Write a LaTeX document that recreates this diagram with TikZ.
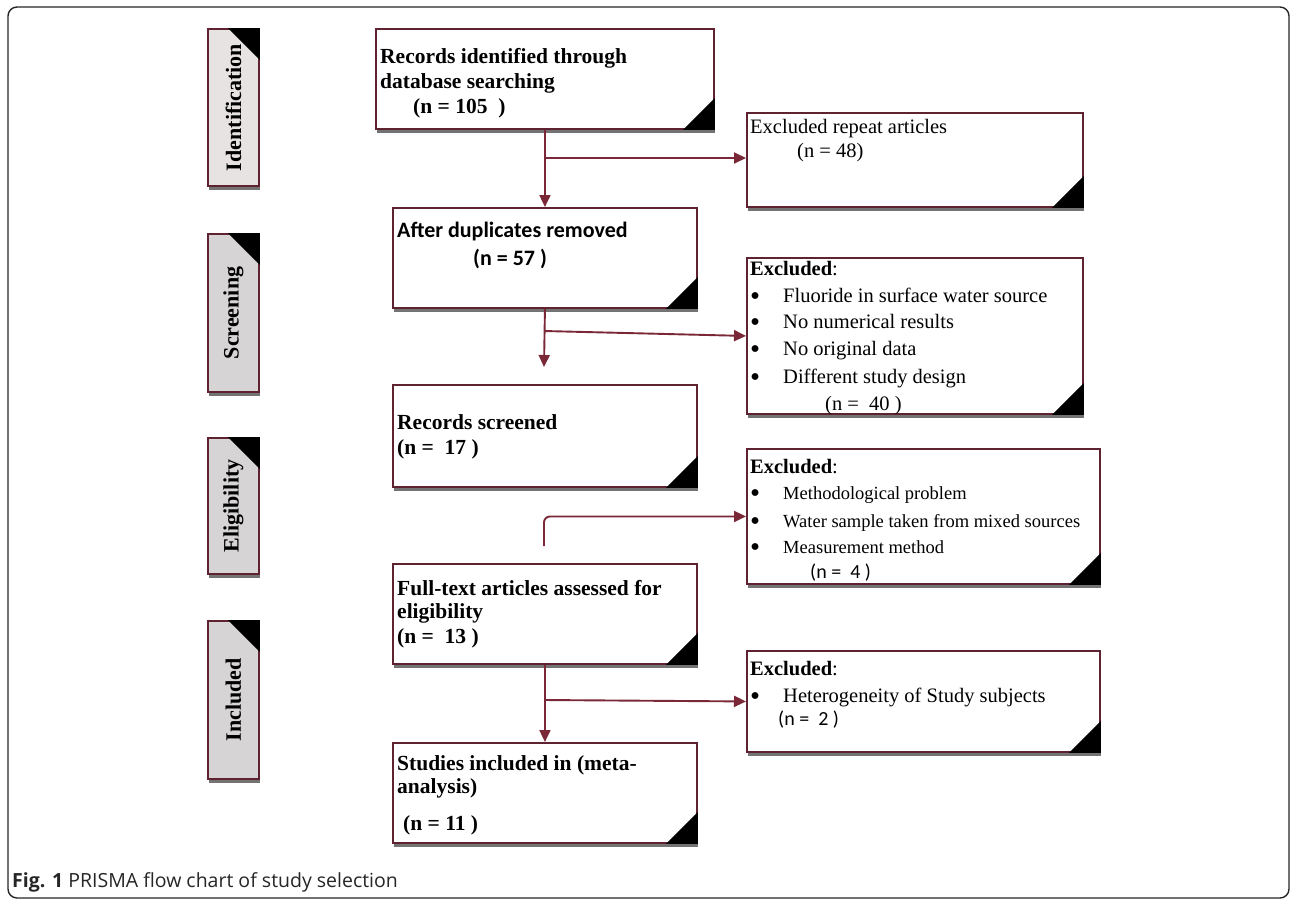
\documentclass[tikz,border=0pt]{standalone}
\usepackage{fontspec}
\setmainfont{Liberation Serif}
\newfontfamily\calib{Carlito}
\newfontfamily\capsans{Open Sans}
\usetikzlibrary{arrows.meta,shadows}
\definecolor{brd}{HTML}{5F2230}
\definecolor{arr}{HTML}{7A2838}
\definecolor{sidegray}{HTML}{D6D4D4}
\definecolor{sidelight}{HTML}{E8E3E3}
\newcommand\bigbul{\raisebox{-3pt}{\scalebox{1.4}{\textbullet}}}
\begin{document}
\begin{tikzpicture}[x=1pt,y=-1pt,
  frame/.style={draw=black!85, line width=1.4pt, rounded corners=9pt},
  box/.style={draw=brd, line width=1.9pt, fill=white, inner sep=0pt, anchor=north west,
    drop shadow={shadow xshift=1.5pt, shadow yshift=-4.5pt, fill=black, opacity=0.55}},
  sidebox/.style={box, fill=sidegray, minimum width=51pt},
  corner/.style={fill=black},
  conn/.style={draw=arr, line width=1.9pt},
  arrowed/.style={conn, -{Triangle[length=12pt,width=11pt]}},
  mtxt/.style={anchor=base west, inner sep=0pt, font=\fontsize{21.5}{25}\selectfont\bfseries},
  ctxt/.style={anchor=base west, inner sep=0pt, font=\fontsize{22}{26}\selectfont\calib\bfseries},
  rtxt/.style={anchor=base west, inner sep=0pt, font=\fontsize{20.5}{24}\selectfont},
  stxt/.style={anchor=base west, inner sep=0pt, font=\fontsize{18.5}{22}\selectfont},
  ntxt/.style={anchor=base west, inner sep=0pt, font=\fontsize{20}{24}\selectfont\calib},
  bul/.style={anchor=base west, inner sep=0pt, font=\fontsize{20.5}{24}\selectfont},
  sidetxt/.style={rotate=90, inner sep=0pt, font=\fontsize{22}{26}\selectfont\bfseries},
  captxt/.style={anchor=base west, inner sep=0pt, text=black!85, font=\fontsize{19.5}{22}\selectfont\capsans},
]
\useasboundingbox (0,0) rectangle (1292,900);
\fill[white] (0,0) rectangle (1292,900);
% outer frame
\coordinate (fnw) at (8,7);
\coordinate (fse) at (1289,898);
\draw[frame] (fnw) rectangle (fse);

% side labels
\node[sidebox, fill=sidelight, minimum height=157pt] (s1) at (207,28) {};
\node[sidebox, minimum height=158pt] (s2) at (207,233) {};
\node[sidebox, minimum height=136pt] (s3) at (207,437) {};
\node[sidebox, minimum height=158pt] (s4) at (207,620) {};
\foreach \s in {s1,s2,s3,s4}{
  \fill[corner] (\s.north east) -- ++(-32,0) -- ++(32,32) -- cycle;
}
\node[sidetxt] (l1) at (s1.center) {Identification};
\node[sidetxt] (l2) at (s2.center) {Screening};
\node[sidetxt] (l3) at (s3.center) {Eligibility};
\node[sidetxt] (l4) at (s4.center) {Included};

% main boxes
\node[box, minimum width=338pt, minimum height=100pt] (b1) at (375,28) {};
\node[box, minimum width=304pt, minimum height=100pt] (b2) at (392,207) {};
\node[box, minimum width=304pt, minimum height=102pt] (b3) at (392,384) {};
\node[box, minimum width=304pt, minimum height=100pt] (b4) at (392,563) {};
\node[box, minimum width=304pt, minimum height=100pt] (b5) at (392,742) {};
% right boxes
\node[box, minimum width=336pt, minimum height=94pt] (r1) at (746,112) {};
\node[box, minimum width=336pt, minimum height=156pt] (r2) at (746,257) {};
\node[box, minimum width=353pt, minimum height=135pt] (r3) at (746,448) {};
\node[box, minimum width=353pt, minimum height=101pt] (r4) at (746,650) {};
\foreach \b in {b1,b2,b3,b4,b5,r1,r2,r3,r4}{
  \fill[corner] (\b.south east) -- ++(-32,0) -- ++(32,-32) -- cycle;
}

% texts of main boxes
\node[mtxt] (t1a) at (380,63) {Records identified through};
\node[mtxt] (t1b) at (380,88) {database searching};
\node[mtxt] (t1c) at (413,113) {(n = 105\ \ )};
\node[ctxt] (t2a) at (397,237) {After duplicates removed};
\node[ctxt] (t2b) at (473,265) {(n = 57 )};
\node[mtxt] (t3a) at (397,429) {Records screened};
\node[mtxt] (t3b) at (397,454) {(n =\ \ 17 )};
\node[mtxt] (t4a) at (397,595) {Full-text articles assessed for};
\node[mtxt] (t4b) at (397,618) {eligibility};
\node[mtxt] (t4c) at (397,643) {(n =\ \ 13 )};
\node[mtxt] (t5a) at (397,770) {Studies included in (meta-};
\node[mtxt] (t5b) at (397,793) {analysis)};
\node[mtxt] (t5c) at (403,830) {(n = 11 )};

% texts of right boxes
\node[rtxt] (u1a) at (750,133) {Excluded repeat articles};
\node[rtxt] (u1b) at (797,157) {(n = 48)};

\node[rtxt] (u2h) at (750,275) {\textbf{Excluded}:};
\node[bul] (u2p1) at (750,302) {\bigbul};
\node[rtxt] (u2i1) at (783,302) {Fluoride in surface water source};
\node[bul] (u2p2) at (750,328) {\bigbul};
\node[rtxt] (u2i2) at (783,328) {No numerical results};
\node[bul] (u2p3) at (750,355) {\bigbul};
\node[rtxt] (u2i3) at (783,355) {No original data};
\node[bul] (u2p4) at (750,383) {\bigbul};
\node[rtxt] (u2i4) at (783,383) {Different study design};
\node[rtxt] (u2n) at (825,410) {(n =\ \ 40 )};

\node[rtxt] (u3h) at (750,473) {\textbf{Excluded}:};
\node[bul] (u3p1) at (750,499) {\bigbul};
\node[stxt] (u3i1) at (783,499) {Methodological problem};
\node[bul] (u3p2) at (750,527) {\bigbul};
\node[stxt] (u3i2) at (783,527) {Water sample taken from mixed sources};
\node[bul] (u3p3) at (750,553) {\bigbul};
\node[stxt] (u3i3) at (783,553) {Measurement method};
\node[ntxt] (u3n) at (810,578) {(n =\ \ 4 )};

\node[rtxt] (u4h) at (750,675) {\textbf{Excluded}:};
\node[bul] (u4p1) at (750,702) {\bigbul};
\node[rtxt] (u4i1) at (783,702) {Heterogeneity of Study subjects};
\node[ntxt] (u4n) at (778,725) {(n =\ \ 2 )};

% connectors
\coordinate (j1) at (544,158);
\draw[arrowed] (b1.south) -- (b2.north);
\draw[arrowed] (j1) -- (r1.west |- j1);

\coordinate (j2) at (544,331);
\coordinate (e2) at (544,367);
\draw[arrowed] (b2.south) -- (e2);
\draw[arrowed] (j2) -- (r2.west);

\coordinate (a3) at (544,546);
\draw[arrowed, rounded corners=6pt] (a3) |- (r3.west);

\coordinate (j4) at (544,700);
\draw[arrowed] (b4.south) -- (b5.north);
\draw[arrowed] (j4) -- (r4.west);

% caption
\node[captxt] (cap) at (12,887) {\textbf{Fig. 1} PRISMA flow chart of study selection};
\end{tikzpicture}
\end{document}
